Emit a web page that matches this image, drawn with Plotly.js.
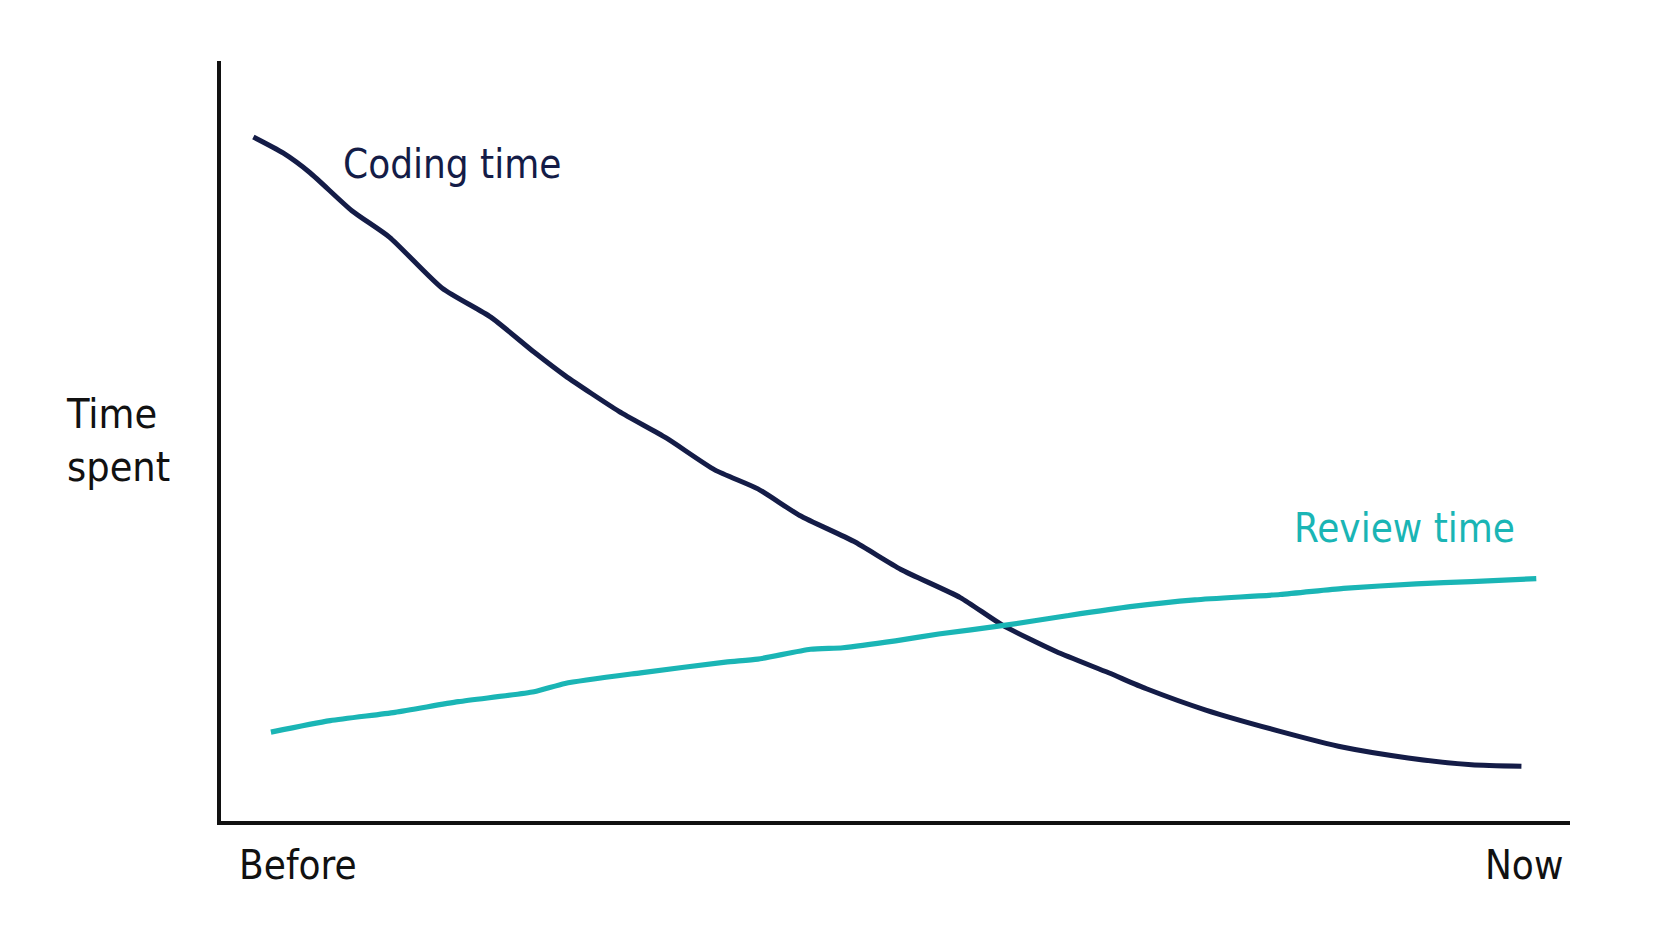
<!DOCTYPE html>
<html>
<head>
<meta charset="utf-8">
<script src="https://cdn.plot.ly/plotly-3.0.1.min.js"></script>
<style>
  html, body { margin: 0; padding: 0; background: #ffffff; }
  #chart { width: 1672px; height: 941px; }
</style>
</head>
<body>
<div id="chart"></div>
<script>
// Time axis (0 = before, 100 = now) and relative time spent (0..100)
const codingX = [2.4, 4.6, 6.6, 9.7, 12.5, 16.4, 20.0, 23.2, 25.5, 29.5, 33.0, 36.6, 39.8, 42.9, 46.9, 50.4, 54.8, 57.9, 61.9, 65.8, 68.6, 73.0, 78.5, 83.2, 88.0, 92.7, 96.4];
const codingY = [90.0, 87.9, 85.3, 80.3, 76.8, 70.1, 66.3, 61.7, 58.6, 53.9, 50.4, 46.2, 43.7, 40.2, 36.8, 33.1, 29.4, 25.8, 22.3, 19.5, 17.4, 14.6, 11.8, 9.7, 8.3, 7.4, 7.2];

const reviewX = [3.7, 8.1, 12.9, 17.6, 23.2, 25.5, 31.1, 37.4, 39.8, 43.7, 46.1, 50.0, 53.2, 57.9, 62.7, 67.4, 72.2, 78.5, 83.2, 88.6, 92.7, 97.5];
const reviewY = [11.7, 13.2, 14.3, 15.7, 17.0, 18.1, 19.5, 20.9, 21.3, 22.6, 22.8, 23.7, 24.6, 25.7, 27.0, 28.2, 29.1, 29.8, 30.6, 31.2, 31.5, 31.9];

const tickVals = [5.7, 96.6];
const tickText = ['Before', 'Now'];

const seriesNames = ['Coding time', 'Review time'];
const yTitle = 'Time<br>spent';

const FONT = '"DejaVu Sans Condensed", "Liberation Sans Narrow", "Noto Sans", sans-serif';
const NAVY = '#141c47';
const TEAL = '#1ab5b5';
const INK = '#111111';
const FS = 40;

const traces = [
  {
    x: codingX, y: codingY, name: seriesNames[0], type: 'scatter', mode: 'lines',
    line: { color: NAVY, width: 5, shape: 'spline', smoothing: 0.6 },
    hoverinfo: 'skip'
  },
  {
    x: reviewX, y: reviewY, name: seriesNames[1], type: 'scatter', mode: 'lines',
    line: { color: TEAL, width: 5.2, shape: 'spline', smoothing: 0.6 },
    hoverinfo: 'skip'
  }
];

const plotL = 221, plotR = 102, plotT = 61, plotB = 120;
const plotW = 1672 - plotL - plotR, plotH = 941 - plotT - plotB;
const px2paperX = p => (p - plotL) / plotW;
const px2paperY = p => 1 - (p - plotT) / plotH;

const layout = {
  width: 1672, height: 941,
  paper_bgcolor: '#ffffff', plot_bgcolor: '#ffffff',
  margin: { l: plotL, r: plotR, t: plotT, b: plotB, pad: 0 },
  showlegend: false,
  hovermode: false,
  font: { family: FONT, color: INK, size: FS },
  xaxis: {
    range: [0, 100], fixedrange: true,
    showgrid: false, zeroline: false,
    showline: true, linecolor: INK, linewidth: 4,
    ticks: '', tickvals: tickVals, ticktext: tickText,
    tickfont: { family: FONT, size: FS, color: INK },
    ticklabelstandoff: 6
  },
  yaxis: {
    range: [0, 100], fixedrange: true,
    showgrid: false, zeroline: false,
    showline: true, linecolor: INK, linewidth: 4,
    ticks: '', showticklabels: false
  },
  annotations: [
    { x: 17.1, y: 86.5, xref: 'x', yref: 'y', text: seriesNames[0], showarrow: false,
      xanchor: 'center', yanchor: 'middle', font: { family: FONT, size: FS, color: NAVY } },
    { x: 87.7, y: 38.6, xref: 'x', yref: 'y', text: seriesNames[1], showarrow: false,
      xanchor: 'center', yanchor: 'middle', font: { family: FONT, size: FS, color: TEAL } },
    { x: px2paperX(64), y: px2paperY(440), xref: 'paper', yref: 'paper', text: yTitle, showarrow: false,
      xanchor: 'left', yanchor: 'middle', align: 'left', font: { family: FONT, size: FS + 1, color: INK } }
  ]
};

Plotly.newPlot('chart', traces, layout, { displayModeBar: false, staticPlot: true });
</script>
</body>
</html>
